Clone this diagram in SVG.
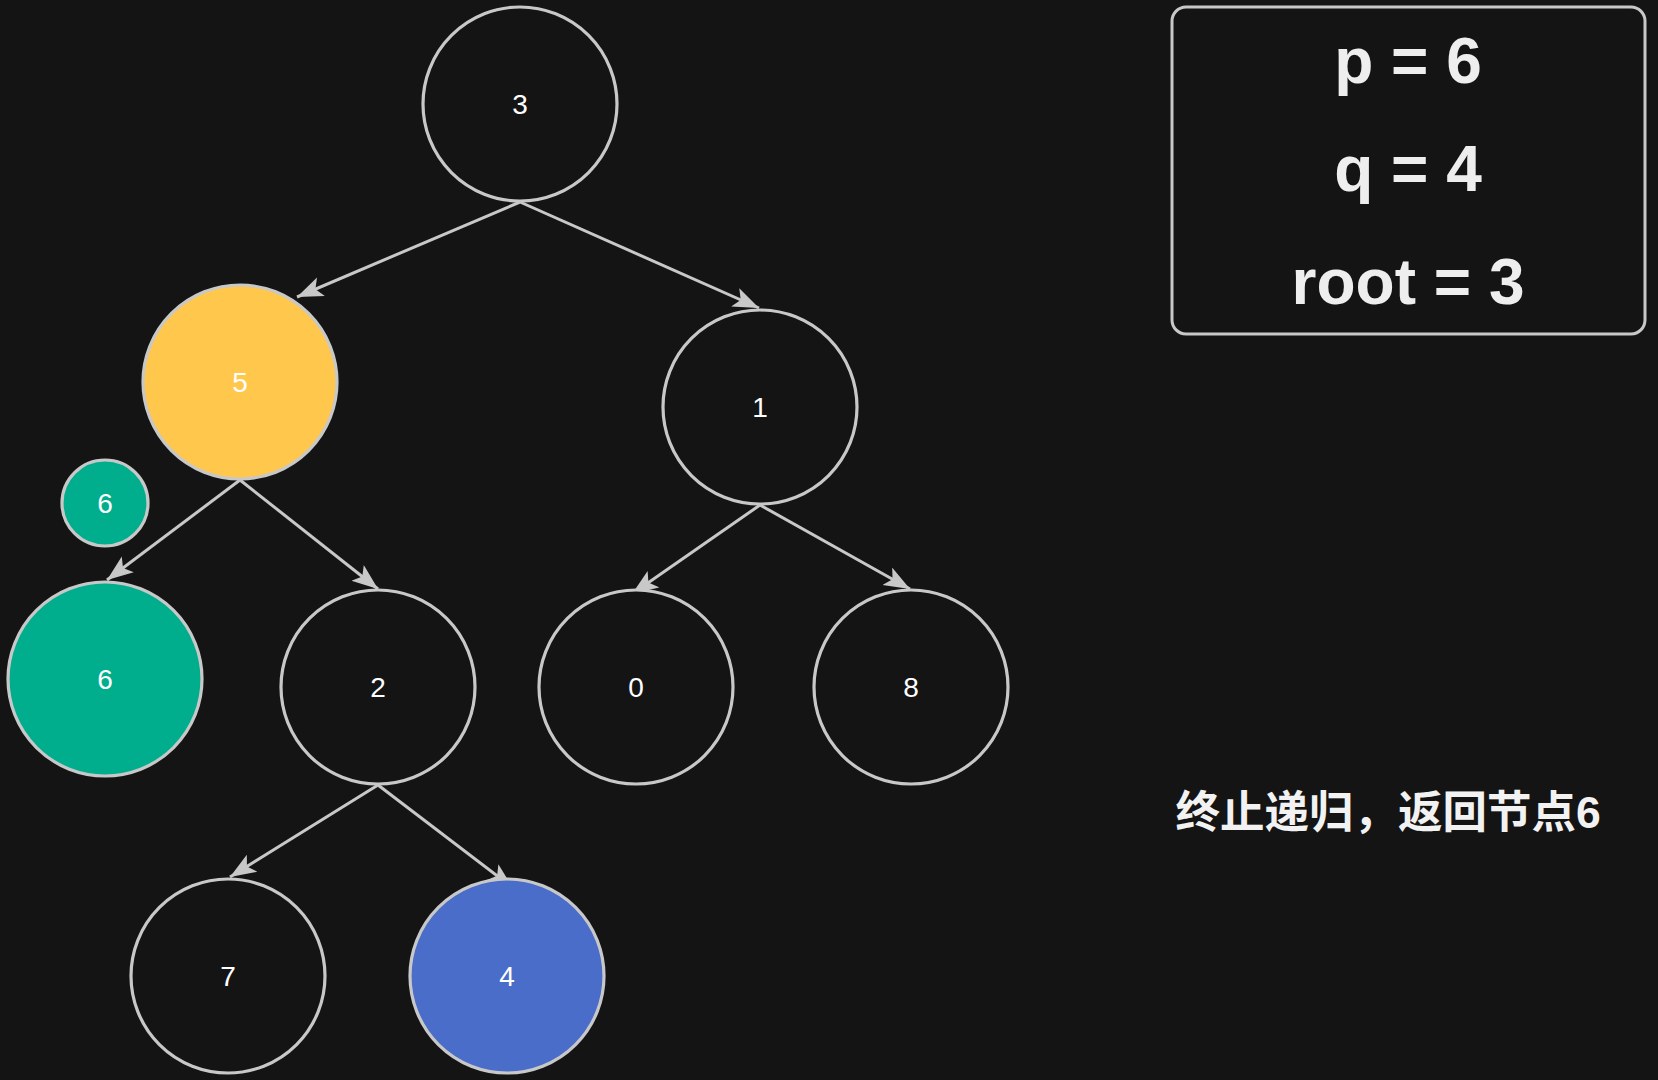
<svg xmlns="http://www.w3.org/2000/svg" width="1658" height="1080" viewBox="0 0 1658 1080">
<style>
.bg{fill:#141414}
.node circle{stroke:#c8c8c8;stroke-width:3.2}
.plain{fill:#141414}
.yellow{fill:#ffc74b}
.teal{fill:#00ae8e}
.blue{fill:#4a6dc9}
.lbl{font-family:"Liberation Sans",Arial,sans-serif;font-size:28px;fill:#ffffff;text-anchor:middle}
.edge{stroke:#c8c8c8;stroke-width:3;fill:none}
.big{font-family:"Liberation Sans",Arial,sans-serif;font-weight:bold;font-size:64px;fill:#eeeeee;text-anchor:middle}
.note{font-family:"Liberation Sans","Noto Sans CJK SC",sans-serif;font-weight:bold;font-size:44.5px;fill:#f2f2f2;text-anchor:middle}
</style>
<defs>
<marker id="arr" markerUnits="userSpaceOnUse" markerWidth="28" markerHeight="22" refX="26" refY="10" orient="auto" viewBox="0 0 28 22">
<path d="M0,0 L26,10 L0,20 L6,10 Z" fill="#c8c8c8"/>
</marker>
</defs>
<rect class="bg" x="0" y="0" width="1658" height="1080"/>
<g id="connectors">
<line class="edge" x1="520" y1="202" x2="297" y2="297" marker-end="url(#arr)"/>
<line class="edge" x1="520" y1="202" x2="759" y2="308" marker-end="url(#arr)"/>
<line class="edge" x1="240" y1="480" x2="107" y2="580" marker-end="url(#arr)"/>
<line class="edge" x1="240" y1="480" x2="378" y2="589" marker-end="url(#arr)"/>
<line class="edge" x1="760" y1="505" x2="632" y2="594" marker-end="url(#arr)"/>
<line class="edge" x1="760" y1="505" x2="910" y2="589" marker-end="url(#arr)"/>
<line class="edge" x1="378" y1="785" x2="230" y2="877" marker-end="url(#arr)"/>
<line class="edge" x1="378" y1="785" x2="513" y2="888" marker-end="url(#arr)"/>
</g>
<g id="node-3" class="node"><circle class="plain" cx="520" cy="104" r="97"/><text class="lbl" x="520" y="114">3</text></g>
<g id="node-5" class="node"><circle class="yellow" cx="240" cy="382" r="97"/><text class="lbl" x="240" y="392">5</text></g>
<g id="node-1" class="node"><circle class="plain" cx="760" cy="407" r="97"/><text class="lbl" x="760" y="417">1</text></g>
<g id="node-6-small" class="node"><circle class="teal" cx="105" cy="503" r="43"/><text class="lbl" x="105" y="513">6</text></g>
<g id="node-6" class="node"><circle class="teal" cx="105" cy="679" r="97"/><text class="lbl" x="105" y="689">6</text></g>
<g id="node-2" class="node"><circle class="plain" cx="378" cy="687" r="97"/><text class="lbl" x="378" y="697">2</text></g>
<g id="node-0" class="node"><circle class="plain" cx="636" cy="687" r="97"/><text class="lbl" x="636" y="697">0</text></g>
<g id="node-8" class="node"><circle class="plain" cx="911" cy="687" r="97"/><text class="lbl" x="911" y="697">8</text></g>
<g id="node-7" class="node"><circle class="plain" cx="228" cy="976" r="97"/><text class="lbl" x="228" y="986">7</text></g>
<g id="node-4" class="node"><circle class="blue" cx="507" cy="976" r="97"/><text class="lbl" x="507" y="986">4</text></g>
<g id="info-box">
<rect x="1172" y="7" width="473" height="327" rx="14" ry="14" fill="#141414" stroke="#c8c8c8" stroke-width="3"/>
<text class="big" x="1408" y="83">p = 6</text>
<text class="big" x="1408" y="191">q = 4</text>
<text class="big" x="1408" y="304">root = 3</text>
</g>
<g id="note">
<text class="note" x="1388" y="828">终止递归，返回节点6</text>
</g>
</svg>
